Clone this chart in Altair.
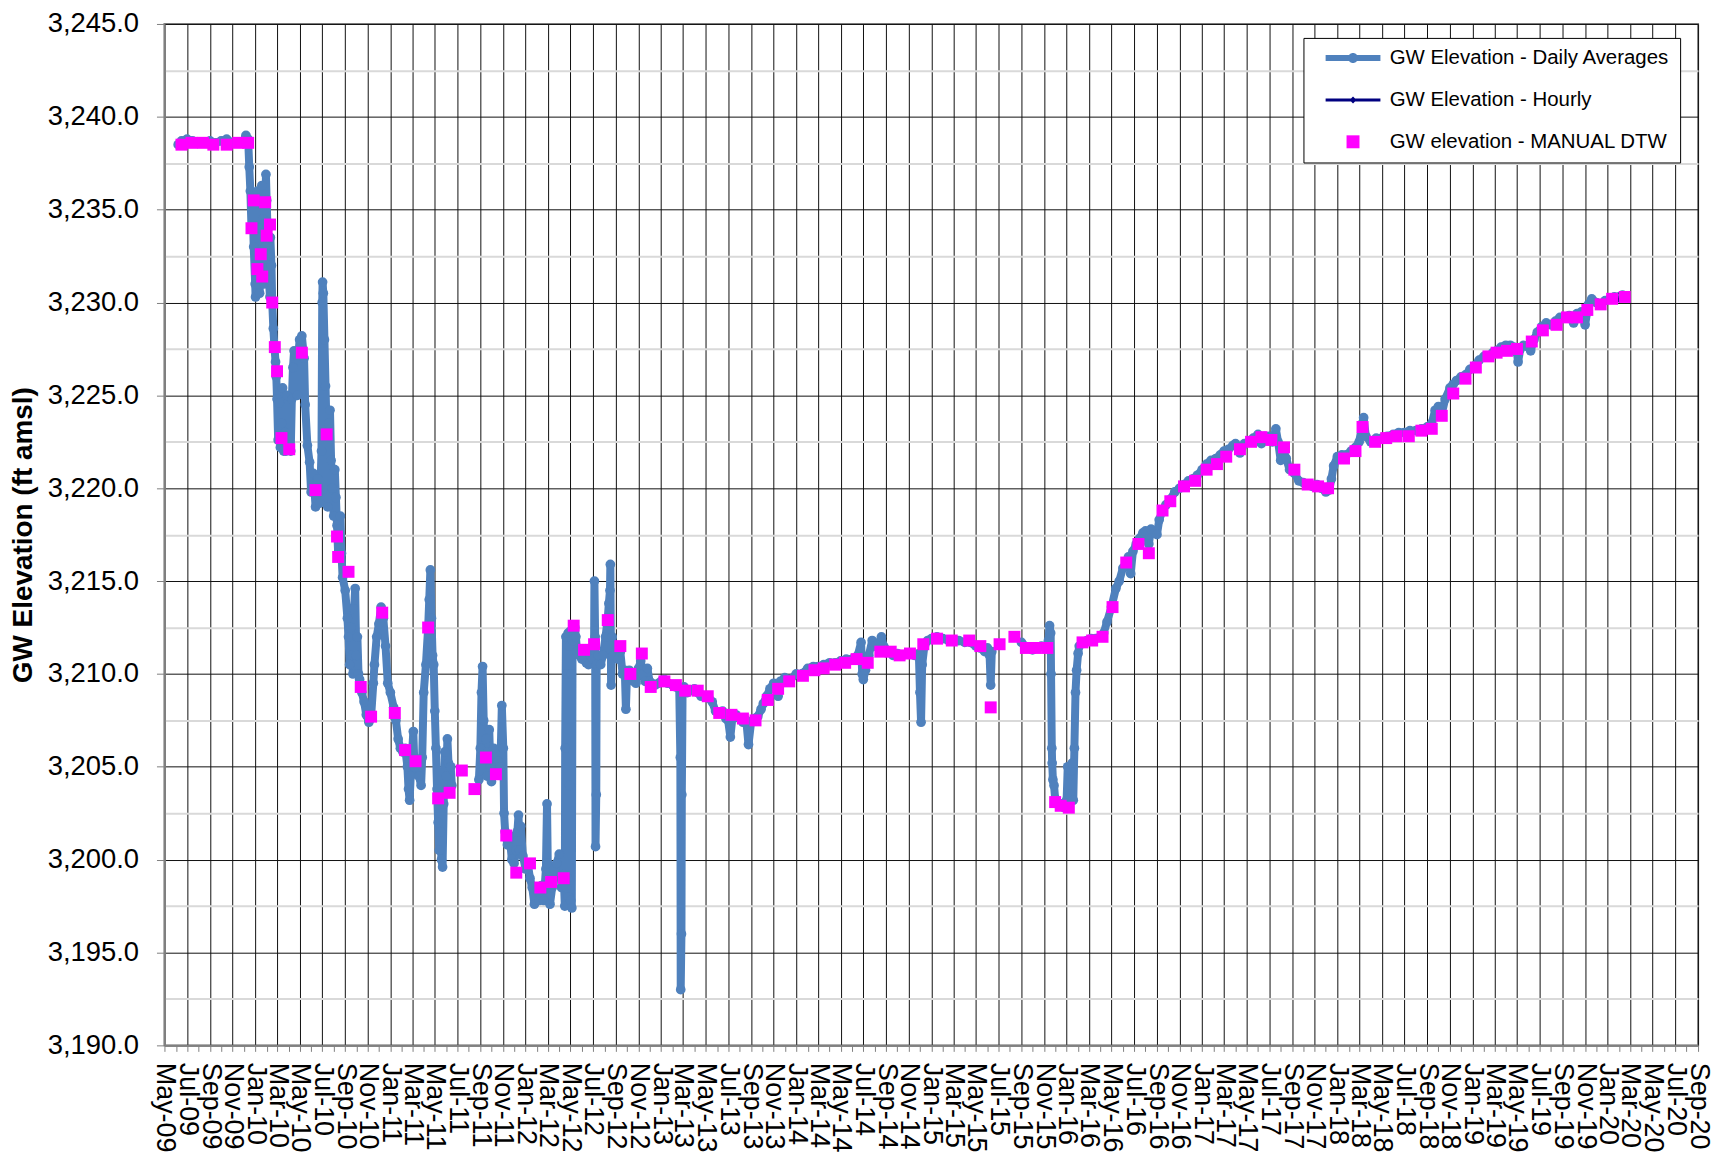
import altair as alt
import pandas as pd

BLUE = "#4F81BD"
NAVY = "#000080"
MAGENTA = "#FF00FF"

SERIES = ["GW Elevation - Daily Averages", "GW Elevation - Hourly", "GW elevation - MANUAL DTW"]

# Daily averages (three continuous segments, gaps between them)
DAILY_SEG1 = [
    ("2009-06-07", 3238.5), ("2009-06-16", 3238.7), ("2009-07-01", 3238.8), ("2009-07-16", 3238.7),
    ("2009-08-01", 3238.6), ("2009-08-16", 3238.6), ("2009-09-01", 3238.7), ("2009-09-16", 3238.6),
    ("2009-10-01", 3238.7), ("2009-10-16", 3238.8), ("2009-11-01", 3238.6), ("2009-11-16", 3238.6),
    ("2009-12-01", 3238.7), ("2009-12-07", 3239.0), ("2009-12-13", 3238.8), ("2009-12-16", 3237.3),
    ("2009-12-19", 3236.0), ("2009-12-22", 3234.0), ("2009-12-25", 3235.5), ("2009-12-28", 3233.0),
    ("2010-01-01", 3231.0), ("2010-01-02", 3230.3), ("2010-01-04", 3232.5), ("2010-01-07", 3236.0),
    ("2010-01-10", 3234.0), ("2010-01-11", 3231.0), ("2010-01-13", 3230.5), ("2010-01-16", 3232.5),
    ("2010-01-19", 3236.3), ("2010-01-22", 3234.5), ("2010-01-25", 3231.0), ("2010-01-28", 3233.0),
    ("2010-01-30", 3236.9), ("2010-02-01", 3235.5), ("2010-02-04", 3233.5), ("2010-02-07", 3231.2),
    ("2010-02-10", 3230.3), ("2010-02-11", 3233.5), ("2010-02-14", 3232.0), ("2010-02-16", 3230.0),
    ("2010-02-19", 3228.6), ("2010-02-22", 3227.6), ("2010-02-25", 3226.8), ("2010-02-27", 3226.0),
    ("2010-03-01", 3224.8), ("2010-03-04", 3222.6), ("2010-03-07", 3224.6), ("2010-03-10", 3222.2),
    ("2010-03-13", 3223.5), ("2010-03-16", 3225.4), ("2010-03-19", 3222.0), ("2010-03-22", 3223.0),
    ("2010-03-25", 3222.0), ("2010-03-28", 3225.0), ("2010-04-01", 3222.3), ("2010-04-07", 3222.0),
    ("2010-04-10", 3224.8), ("2010-04-13", 3226.5), ("2010-04-16", 3227.4), ("2010-04-22", 3227.2),
    ("2010-04-25", 3225.0), ("2010-04-28", 3227.3), ("2010-05-01", 3228.0), ("2010-05-07", 3228.2),
    ("2010-05-13", 3227.0), ("2010-05-16", 3224.5), ("2010-05-22", 3222.3), ("2010-05-28", 3221.4),
    ("2010-06-01", 3219.8), ("2010-06-07", 3220.8), ("2010-06-13", 3219.0), ("2010-06-19", 3220.5),
    ("2010-06-25", 3219.2), ("2010-06-29", 3222.0), ("2010-07-01", 3230.0), ("2010-07-02", 3231.1),
    ("2010-07-04", 3230.5), ("2010-07-07", 3228.0), ("2010-07-10", 3225.5), ("2010-07-13", 3222.9),
    ("2010-07-16", 3219.0), ("2010-07-19", 3223.5), ("2010-07-22", 3224.2), ("2010-07-25", 3221.5),
    ("2010-07-28", 3220.0), ("2010-08-01", 3218.5), ("2010-08-04", 3221.0), ("2010-08-07", 3219.5),
    ("2010-08-10", 3218.0), ("2010-08-13", 3216.5), ("2010-08-16", 3217.8), ("2010-08-19", 3218.5),
    ("2010-08-22", 3216.5), ("2010-08-25", 3215.2), ("2010-09-01", 3214.5), ("2010-09-07", 3213.0),
    ("2010-09-10", 3212.0), ("2010-09-13", 3210.5), ("2010-09-16", 3212.5), ("2010-09-19", 3211.0),
    ("2010-09-22", 3210.0), ("2010-09-25", 3213.5), ("2010-09-28", 3214.6), ("2010-10-01", 3211.0),
    ("2010-10-04", 3212.0), ("2010-10-07", 3210.0), ("2010-10-10", 3209.7), ("2010-10-16", 3209.0),
    ("2010-10-22", 3208.5), ("2010-10-28", 3207.8), ("2010-11-04", 3207.4), ("2010-11-10", 3207.7),
    ("2010-11-16", 3209.5), ("2010-11-19", 3210.5), ("2010-11-25", 3212.0), ("2010-12-01", 3212.7),
    ("2010-12-07", 3213.6), ("2010-12-13", 3213.0), ("2010-12-19", 3211.5), ("2010-12-25", 3209.5),
    ("2011-01-01", 3209.0), ("2011-01-10", 3208.2), ("2011-01-16", 3207.5), ("2011-01-22", 3206.5),
    ("2011-01-28", 3206.0), ("2011-02-04", 3205.8), ("2011-02-10", 3206.0), ("2011-02-16", 3205.0),
    ("2011-02-19", 3203.8), ("2011-02-22", 3203.2), ("2011-02-25", 3204.5), ("2011-03-04", 3206.9),
    ("2011-03-07", 3205.0), ("2011-03-13", 3205.3), ("2011-03-19", 3204.5), ("2011-03-25", 3204.0),
    ("2011-03-28", 3205.5), ("2011-04-01", 3209.0), ("2011-04-07", 3210.5), ("2011-04-13", 3212.5),
    ("2011-04-16", 3214.0), ("2011-04-19", 3215.6), ("2011-04-22", 3213.0), ("2011-04-25", 3211.0),
    ("2011-04-28", 3210.5), ("2011-05-01", 3208.0), ("2011-05-04", 3206.0), ("2011-05-07", 3203.8),
    ("2011-05-10", 3202.0), ("2011-05-13", 3200.5), ("2011-05-16", 3201.5), ("2011-05-19", 3200.0),
    ("2011-05-22", 3199.6), ("2011-05-25", 3203.0), ("2011-05-28", 3205.8), ("2011-06-01", 3204.5),
    ("2011-06-04", 3206.5), ("2011-06-07", 3205.2), ("2011-06-10", 3203.6), ("2011-06-13", 3205.0),
    ("2011-06-16", 3204.0),
]

DAILY_SEG2 = [
    ("2011-08-28", 3204.3), ("2011-09-01", 3206.0), ("2011-09-04", 3209.0), ("2011-09-07", 3210.4),
    ("2011-09-10", 3207.5), ("2011-09-13", 3205.5), ("2011-09-16", 3206.5), ("2011-09-19", 3204.5),
    ("2011-09-22", 3205.8), ("2011-09-25", 3207.0), ("2011-09-28", 3205.0), ("2011-10-01", 3204.2),
    ("2011-10-07", 3206.0), ("2011-10-13", 3204.6), ("2011-10-19", 3205.3), ("2011-10-25", 3205.0),
    ("2011-10-29", 3208.3), ("2011-11-02", 3206.0), ("2011-11-04", 3202.5), ("2011-11-07", 3201.5),
    ("2011-11-13", 3200.8), ("2011-11-19", 3201.3), ("2011-11-25", 3200.0), ("2011-12-01", 3199.8),
    ("2011-12-07", 3200.5), ("2011-12-10", 3201.5), ("2011-12-13", 3202.4), ("2011-12-16", 3200.5),
    ("2011-12-19", 3201.8), ("2011-12-25", 3200.2), ("2012-01-01", 3199.5), ("2012-01-07", 3199.8),
    ("2012-01-13", 3199.0), ("2012-01-19", 3198.5), ("2012-01-25", 3197.6), ("2012-02-01", 3198.3),
    ("2012-02-07", 3197.8), ("2012-02-13", 3198.6), ("2012-02-19", 3197.8), ("2012-02-25", 3199.5),
    ("2012-02-28", 3203.0), ("2012-03-01", 3199.8), ("2012-03-07", 3197.6), ("2012-03-13", 3198.5),
    ("2012-03-19", 3199.5), ("2012-03-25", 3199.8), ("2012-04-01", 3200.3), ("2012-04-07", 3198.5),
    ("2012-04-13", 3199.2), ("2012-04-16", 3197.5), ("2012-04-17", 3206.0), ("2012-04-19", 3212.0),
    ("2012-04-20", 3198.5), ("2012-04-22", 3210.0), ("2012-04-23", 3199.0), ("2012-04-25", 3212.2),
    ("2012-04-26", 3198.0), ("2012-04-28", 3211.5), ("2012-04-29", 3204.0), ("2012-05-01", 3212.3),
    ("2012-05-02", 3197.8), ("2012-05-04", 3210.0), ("2012-05-05", 3197.4), ("2012-05-07", 3211.8),
    ("2012-05-10", 3212.6), ("2012-05-13", 3212.5), ("2012-05-16", 3212.0), ("2012-05-19", 3211.2),
    ("2012-05-25", 3211.0), ("2012-06-01", 3210.8), ("2012-06-07", 3211.3), ("2012-06-13", 3210.6),
    ("2012-06-19", 3210.5), ("2012-06-25", 3211.0), ("2012-07-01", 3210.8), ("2012-07-04", 3211.3),
    ("2012-07-05", 3215.0), ("2012-07-07", 3212.0), ("2012-07-08", 3200.7), ("2012-07-10", 3203.5),
    ("2012-07-11", 3210.5), ("2012-07-16", 3211.0), ("2012-07-22", 3210.5), ("2012-07-28", 3211.0),
    ("2012-08-04", 3212.0), ("2012-08-10", 3213.0), ("2012-08-13", 3213.8), ("2012-08-16", 3214.5),
    ("2012-08-17", 3215.9), ("2012-08-19", 3209.4), ("2012-08-22", 3212.0), ("2012-08-25", 3211.0),
    ("2012-09-01", 3211.5), ("2012-09-07", 3210.8), ("2012-09-13", 3211.2), ("2012-09-19", 3210.0),
    ("2012-09-25", 3210.2), ("2012-09-28", 3208.1), ("2012-10-01", 3210.0), ("2012-10-07", 3210.2),
    ("2012-10-13", 3209.8), ("2012-10-19", 3209.6), ("2012-10-25", 3209.5), ("2012-11-01", 3210.3),
    ("2012-11-07", 3210.7), ("2012-11-13", 3210.0), ("2012-11-19", 3209.6), ("2012-11-25", 3210.3),
    ("2012-12-01", 3209.6), ("2012-12-07", 3209.5), ("2012-12-16", 3209.4), ("2012-12-25", 3209.5),
    ("2013-01-01", 3209.6), ("2013-01-10", 3209.7), ("2013-01-19", 3209.5), ("2013-02-01", 3209.4),
    ("2013-02-10", 3209.3), ("2013-02-19", 3209.2), ("2013-02-22", 3205.5), ("2013-02-23", 3193.0),
    ("2013-02-25", 3196.0), ("2013-02-26", 3203.5), ("2013-02-28", 3209.0), ("2013-03-04", 3209.3),
    ("2013-03-13", 3209.0), ("2013-03-22", 3209.1), ("2013-04-01", 3209.2), ("2013-04-10", 3209.0),
    ("2013-04-19", 3208.8), ("2013-05-01", 3208.8), ("2013-05-10", 3208.7), ("2013-05-19", 3208.5),
    ("2013-05-28", 3208.0), ("2013-06-07", 3207.9), ("2013-06-16", 3208.0), ("2013-06-25", 3207.6),
    ("2013-07-01", 3207.5), ("2013-07-07", 3206.6), ("2013-07-13", 3207.7), ("2013-07-22", 3207.8),
    ("2013-08-01", 3207.6), ("2013-08-10", 3207.4), ("2013-08-19", 3207.5), ("2013-08-25", 3206.2),
    ("2013-09-01", 3207.4), ("2013-09-10", 3207.6), ("2013-09-19", 3207.7), ("2013-09-28", 3208.1),
    ("2013-10-04", 3208.4), ("2013-10-13", 3208.8), ("2013-10-22", 3209.2), ("2013-11-01", 3209.5),
    ("2013-11-10", 3209.4), ("2013-11-13", 3208.8), ("2013-11-19", 3209.6), ("2013-12-01", 3209.8),
    ("2013-12-16", 3209.7), ("2014-01-01", 3210.0), ("2014-01-16", 3210.0), ("2014-02-01", 3210.3),
    ("2014-02-16", 3210.4), ("2014-03-01", 3210.4), ("2014-03-16", 3210.5), ("2014-04-01", 3210.6),
    ("2014-04-16", 3210.6), ("2014-05-01", 3210.7), ("2014-05-16", 3210.8), ("2014-06-01", 3210.8),
    ("2014-06-16", 3211.0), ("2014-06-25", 3211.7), ("2014-06-28", 3210.0), ("2014-07-01", 3209.7),
    ("2014-07-07", 3210.2), ("2014-07-16", 3211.0), ("2014-07-25", 3211.8), ("2014-08-01", 3211.5),
    ("2014-08-10", 3211.6), ("2014-08-19", 3212.0), ("2014-08-25", 3211.5), ("2014-09-01", 3211.3),
    ("2014-09-10", 3211.2), ("2014-09-19", 3211.0), ("2014-10-01", 3211.1), ("2014-10-16", 3211.0),
    ("2014-11-01", 3211.1), ("2014-11-16", 3211.0), ("2014-11-28", 3211.1), ("2014-12-01", 3209.0),
    ("2014-12-04", 3207.4), ("2014-12-07", 3210.5), ("2014-12-13", 3211.5), ("2014-12-22", 3211.8),
    ("2015-01-01", 3211.9), ("2015-01-16", 3212.0), ("2015-02-01", 3211.9), ("2015-02-16", 3211.8),
    ("2015-03-01", 3211.8), ("2015-03-16", 3211.8), ("2015-04-01", 3211.7), ("2015-04-16", 3211.7),
    ("2015-05-01", 3211.5), ("2015-05-13", 3211.4), ("2015-05-25", 3211.2), ("2015-06-01", 3211.4),
    ("2015-06-07", 3211.0), ("2015-06-10", 3209.4), ("2015-06-13", 3211.2),
]

DAILY_SEG3 = [
    ("2015-09-01", 3211.7), ("2015-09-10", 3211.5), ("2015-09-19", 3211.4), ("2015-10-01", 3211.3),
    ("2015-10-13", 3211.4), ("2015-10-25", 3211.5), ("2015-11-07", 3211.5), ("2015-11-13", 3211.8),
    ("2015-11-16", 3212.6), ("2015-11-19", 3212.2), ("2015-11-20", 3210.0), ("2015-11-22", 3206.0),
    ("2015-11-23", 3205.2), ("2015-11-25", 3204.3), ("2015-11-28", 3204.0), ("2015-12-01", 3203.3),
    ("2015-12-07", 3203.0), ("2015-12-13", 3202.9), ("2015-12-19", 3203.0), ("2015-12-25", 3202.8),
    ("2016-01-01", 3203.2), ("2016-01-04", 3205.0), ("2016-01-07", 3204.5), ("2016-01-10", 3203.5),
    ("2016-01-13", 3204.8), ("2016-01-16", 3205.2), ("2016-01-19", 3203.2), ("2016-01-22", 3206.0),
    ("2016-01-25", 3209.0), ("2016-01-28", 3210.2), ("2016-02-01", 3211.1), ("2016-02-04", 3211.5),
    ("2016-02-13", 3211.7), ("2016-02-25", 3211.8), ("2016-03-07", 3211.9), ("2016-03-19", 3211.9),
    ("2016-04-01", 3212.0), ("2016-04-10", 3212.2), ("2016-04-19", 3212.8), ("2016-05-01", 3213.6),
    ("2016-05-13", 3214.6), ("2016-05-22", 3215.0), ("2016-06-01", 3215.7), ("2016-06-10", 3216.0),
    ("2016-06-16", 3216.3), ("2016-06-22", 3215.4), ("2016-06-28", 3216.6), ("2016-07-07", 3217.0),
    ("2016-07-16", 3217.3), ("2016-07-25", 3217.6), ("2016-08-01", 3217.7), ("2016-08-10", 3217.0),
    ("2016-08-16", 3217.8), ("2016-09-01", 3217.5), ("2016-09-07", 3218.3), ("2016-09-16", 3218.8),
    ("2016-09-25", 3219.1), ("2016-10-07", 3219.4), ("2016-10-19", 3219.8), ("2016-11-01", 3220.0),
    ("2016-11-13", 3220.2), ("2016-11-25", 3220.4), ("2016-12-07", 3220.5), ("2016-12-19", 3220.7),
    ("2017-01-01", 3221.0), ("2017-01-13", 3221.3), ("2017-01-25", 3221.5), ("2017-02-07", 3221.6),
    ("2017-02-19", 3221.8), ("2017-03-01", 3222.0), ("2017-03-13", 3222.1), ("2017-03-25", 3222.3),
    ("2017-04-01", 3222.4), ("2017-04-13", 3221.9), ("2017-04-25", 3222.4), ("2017-05-07", 3222.5),
    ("2017-05-19", 3222.7), ("2017-06-01", 3222.9), ("2017-06-10", 3222.4), ("2017-06-19", 3222.8),
    ("2017-07-01", 3222.8), ("2017-07-10", 3222.5), ("2017-07-19", 3223.2), ("2017-07-25", 3222.5),
    ("2017-08-01", 3221.5), ("2017-08-07", 3222.2), ("2017-08-16", 3221.6), ("2017-08-25", 3221.0),
    ("2017-09-07", 3220.8), ("2017-09-19", 3220.4), ("2017-10-01", 3220.3), ("2017-10-13", 3220.2),
    ("2017-10-25", 3220.1), ("2017-11-07", 3220.2), ("2017-11-19", 3220.0), ("2017-12-01", 3219.8),
    ("2017-12-10", 3219.9), ("2017-12-16", 3220.5), ("2017-12-22", 3221.2), ("2018-01-01", 3221.7),
    ("2018-01-13", 3221.8), ("2018-01-25", 3221.8), ("2018-02-07", 3222.0), ("2018-02-19", 3222.2),
    ("2018-03-01", 3222.5), ("2018-03-10", 3223.5), ("2018-03-13", 3223.8), ("2018-03-19", 3222.8),
    ("2018-04-01", 3222.5), ("2018-04-16", 3222.7), ("2018-05-01", 3222.7), ("2018-05-16", 3222.8),
    ("2018-06-01", 3222.9), ("2018-06-16", 3223.0), ("2018-07-01", 3223.0), ("2018-07-16", 3223.1),
    ("2018-08-01", 3223.1), ("2018-08-16", 3223.2), ("2018-09-01", 3223.3), ("2018-09-13", 3223.5),
    ("2018-09-22", 3224.2), ("2018-10-01", 3224.4), ("2018-10-10", 3224.0), ("2018-10-19", 3224.8),
    ("2018-11-01", 3225.4), ("2018-11-10", 3225.6), ("2018-11-19", 3225.8), ("2018-12-01", 3226.0),
    ("2018-12-13", 3226.1), ("2018-12-25", 3226.4), ("2019-01-07", 3226.6), ("2019-01-19", 3226.9),
    ("2019-02-01", 3227.1), ("2019-02-13", 3227.1), ("2019-02-25", 3227.3), ("2019-03-07", 3227.4),
    ("2019-03-19", 3227.6), ("2019-04-01", 3227.7), ("2019-04-13", 3227.7), ("2019-04-22", 3227.6),
    ("2019-05-01", 3227.3), ("2019-05-04", 3226.8), ("2019-05-10", 3227.5), ("2019-05-19", 3227.7),
    ("2019-06-01", 3227.6), ("2019-06-07", 3227.4), ("2019-06-16", 3228.0), ("2019-06-25", 3228.4),
    ("2019-07-07", 3228.7), ("2019-07-19", 3228.9), ("2019-08-01", 3228.8), ("2019-08-13", 3229.0),
    ("2019-08-25", 3229.2), ("2019-09-07", 3229.2), ("2019-09-19", 3229.3), ("2019-10-01", 3228.9),
    ("2019-10-10", 3229.4), ("2019-10-22", 3229.5), ("2019-11-01", 3228.8), ("2019-11-10", 3229.9),
    ("2019-11-19", 3230.2), ("2019-12-01", 3230.0), ("2019-12-13", 3229.9), ("2019-12-25", 3230.1),
    ("2020-01-07", 3230.2), ("2020-01-19", 3230.3), ("2020-02-01", 3230.3), ("2020-02-10", 3230.4),
]

HOURLY = [
    ("2020-01-16", 3230.2), ("2020-01-25", 3230.3), ("2020-02-01", 3230.1),
    ("2020-02-04", 3230.5), ("2020-02-07", 3230.3), ("2020-02-13", 3230.4),
]

MANUAL = [
    ("2009-06-16", 3238.5), ("2009-07-13", 3238.6), ("2009-08-13", 3238.6), ("2009-09-10", 3238.5),
    ("2009-10-16", 3238.5), ("2009-11-16", 3238.6), ("2009-12-13", 3238.6), ("2009-12-22", 3234.0),
    ("2009-12-28", 3235.5), ("2010-01-07", 3231.8), ("2010-01-16", 3232.6), ("2010-01-20", 3231.4),
    ("2010-01-28", 3235.4), ("2010-02-01", 3233.6), ("2010-02-10", 3234.2), ("2010-02-16", 3230.0),
    ("2010-02-23", 3227.6), ("2010-03-01", 3226.3), ("2010-03-13", 3222.7), ("2010-04-03", 3222.1),
    ("2010-05-07", 3227.3), ("2010-06-13", 3219.9), ("2010-07-13", 3222.9), ("2010-08-10", 3217.4),
    ("2010-08-13", 3216.3), ("2010-09-10", 3215.5), ("2010-10-13", 3209.3), ("2010-11-10", 3207.7),
    ("2010-12-10", 3213.3), ("2011-01-13", 3207.9), ("2011-02-10", 3205.9), ("2011-03-10", 3205.3),
    ("2011-04-13", 3212.5), ("2011-05-10", 3203.3), ("2011-06-10", 3203.6), ("2011-07-13", 3204.8),
    ("2011-08-16", 3203.8), ("2011-09-16", 3205.5), ("2011-10-13", 3204.6), ("2011-11-10", 3201.3),
    ("2011-12-07", 3199.3), ("2012-01-13", 3199.8), ("2012-02-10", 3198.5), ("2012-03-10", 3198.8),
    ("2012-04-13", 3199.0), ("2012-05-10", 3212.6), ("2012-06-07", 3211.3), ("2012-07-04", 3211.6),
    ("2012-08-10", 3212.9), ("2012-09-13", 3211.5), ("2012-10-10", 3210.0), ("2012-11-10", 3211.1),
    ("2012-12-04", 3209.3), ("2013-01-10", 3209.6), ("2013-02-10", 3209.4), ("2013-03-07", 3209.1),
    ("2013-04-10", 3209.1), ("2013-05-07", 3208.8), ("2013-06-07", 3207.9), ("2013-07-10", 3207.8),
    ("2013-08-10", 3207.6), ("2013-09-13", 3207.5), ("2013-10-16", 3208.6), ("2013-11-13", 3209.2),
    ("2013-12-13", 3209.6), ("2014-01-19", 3209.9), ("2014-02-19", 3210.2), ("2014-03-16", 3210.3),
    ("2014-04-16", 3210.5), ("2014-05-13", 3210.6), ("2014-06-13", 3210.8), ("2014-07-13", 3210.6),
    ("2014-08-16", 3211.2), ("2014-09-13", 3211.2), ("2014-10-07", 3211.0), ("2014-11-04", 3211.1),
    ("2014-12-10", 3211.6), ("2015-01-16", 3211.9), ("2015-02-25", 3211.8), ("2015-04-13", 3211.8),
    ("2015-05-13", 3211.5), ("2015-06-10", 3208.2), ("2015-07-04", 3211.6), ("2015-08-13", 3212.0),
    ("2015-09-13", 3211.4), ("2015-10-10", 3211.4), ("2015-11-10", 3211.4), ("2015-12-01", 3203.1),
    ("2015-12-16", 3202.9), ("2016-01-07", 3202.8), ("2016-02-13", 3211.7), ("2016-03-10", 3211.8),
    ("2016-04-07", 3212.0), ("2016-05-04", 3213.6), ("2016-06-10", 3216.0), ("2016-07-13", 3217.0),
    ("2016-08-10", 3216.5), ("2016-09-16", 3218.8), ("2016-10-07", 3219.3), ("2016-11-13", 3220.1),
    ("2016-12-13", 3220.4), ("2017-01-13", 3221.0), ("2017-02-10", 3221.3), ("2017-03-07", 3221.7),
    ("2017-04-13", 3222.1), ("2017-05-13", 3222.5), ("2017-06-10", 3222.75), ("2017-07-07", 3222.6),
    ("2017-08-10", 3222.2), ("2017-09-07", 3221.0), ("2017-10-13", 3220.2), ("2017-11-10", 3220.1),
    ("2017-12-07", 3220.0), ("2018-01-19", 3221.6), ("2018-02-19", 3222.0), ("2018-03-10", 3223.3),
    ("2018-04-13", 3222.5), ("2018-05-13", 3222.7), ("2018-06-10", 3222.8), ("2018-07-13", 3222.8),
    ("2018-08-16", 3223.1), ("2018-09-13", 3223.2), ("2018-10-10", 3223.9), ("2018-11-10", 3225.1),
    ("2018-12-13", 3225.9), ("2019-01-10", 3226.5), ("2019-02-13", 3227.1), ("2019-03-07", 3227.3),
    ("2019-04-04", 3227.4), ("2019-05-01", 3227.5), ("2019-06-10", 3227.9), ("2019-07-10", 3228.5),
    ("2019-08-16", 3228.8), ("2019-09-13", 3229.2), ("2019-10-10", 3229.2), ("2019-11-07", 3229.6),
    ("2019-12-13", 3229.9), ("2020-01-13", 3230.2), ("2020-02-16", 3230.3),
]

Y_TICKS = [3190.0, 3192.5, 3195.0, 3197.5, 3200.0, 3202.5, 3205.0, 3207.5, 3210.0, 3212.5,
           3215.0, 3217.5, 3220.0, 3222.5, 3225.0, 3227.5, 3230.0, 3232.5, 3235.0, 3237.5,
           3240.0, 3242.5, 3245.0]
X_START = (2009, 5)
X_END = (2020, 9)

FONT = "Liberation Sans"

# ---- data frames ----
rows = []
for seg_id, seg in enumerate([DAILY_SEG1, DAILY_SEG2, DAILY_SEG3]):
    for d, v in seg:
        rows.append({"date": d, "value": v, "seg": seg_id})
df_daily = pd.DataFrame(rows)
df_hourly = pd.DataFrame(HOURLY, columns=["date", "value"])
df_manual = pd.DataFrame(MANUAL, columns=["date", "value"])
df_legend = pd.DataFrame({"series": SERIES,
                          "date": [DAILY_SEG1[0][0]] * 3,
                          "value": [DAILY_SEG1[0][1]] * 3})

# monthly tick positions
month_ticks = []
y, m = X_START
while (y, m) <= X_END:
    month_ticks.append(alt.DateTime(year=y, month=m, date=1, utc=True))
    m += 1
    if m > 12:
        m = 1
        y += 1

major_test = "utcmonth(datum.value) % 2 == 0"

x_axis = alt.Axis(
    values=month_ticks,
    labelExpr=f"{major_test} ? utcFormat(datum.value, '%b-%y') : ''",
    labelAngle=90, labelAlign="left", labelBaseline="middle",
    labelFontSize=27, labelFont=FONT, labelColor="black",
    labelPadding=11, labelOverlap=False, labelFlush=False,
    tickSize=6, tickColor="#808080", tickWidth=1,
    grid=True, gridColor="#111111", gridWidth=1,
    gridOpacity={"condition": {"test": major_test, "value": 1}, "value": 0},
    domainColor="#808080", domainWidth=2, title=None,
)

y_axis = alt.Axis(
    values=Y_TICKS,
    labelExpr="datum.value % 5 == 0 ? format(datum.value, ',.1f') : ''",
    labelFontSize=27.5, labelFont=FONT, labelColor="black", labelPadding=18,
    labelOverlap=False,
    tickSize=8, tickColor="#808080",
    tickOpacity={"condition": {"test": "datum.value % 5 == 0", "value": 1}, "value": 0},
    grid=True,
    gridColor={"condition": {"test": "datum.value % 5 == 0", "value": "#111111"}, "value": "#d9d9d9"},
    gridWidth={"condition": {"test": "datum.value % 5 == 0", "value": 1}, "value": 2},
    domainColor="#808080", domainWidth=2,
    title="GW Elevation (ft amsl)", titleFontSize=28, titleFontWeight="bold",
    titleFont=FONT, titleColor="black", titlePadding=10,
)

x_enc = alt.X("date:T",
              scale=alt.Scale(type="utc",
                              domain=[alt.DateTime(year=X_START[0], month=X_START[1], date=1, utc=True),
                                      alt.DateTime(year=X_END[0], month=X_END[1], date=1, utc=True)]),
              axis=x_axis)
y_enc = alt.Y("value:Q", scale=alt.Scale(domain=[Y_TICKS[0], Y_TICKS[-1]], nice=False, zero=False),
              axis=y_axis)

daily = alt.Chart(df_daily).mark_line(
    color=BLUE, strokeWidth=8, strokeJoin="round", strokeCap="round",
    point=alt.OverlayMarkDef(filled=True, color=BLUE, size=95, opacity=1),
).encode(x=x_enc, y=y_enc, detail="seg:N")

hourly = alt.Chart(df_hourly).mark_line(
    color=NAVY, strokeWidth=2,
    point=alt.OverlayMarkDef(shape="diamond", filled=True, color=NAVY, size=20, opacity=1),
).encode(x=x_enc, y=y_enc)

manual = alt.Chart(df_manual).mark_square(color=MAGENTA, size=144, opacity=1).encode(x=x_enc, y=y_enc)

# legend symbols (custom paths): thick line + circle, thin line + diamond, square
P_DAILY = "M0.4,-0.6 L11.4,-0.6 L11.4,0.6 L0.4,0.6 Z M4.9,0 A1,1 0 1,1 6.9,0 A1,1 0 1,1 4.9,0 Z"
P_HOURLY = "M0.4,-0.3 L11.4,-0.3 L11.4,0.3 L0.4,0.3 Z M5.9,-0.7 L6.6,0 L5.9,0.7 L5.2,0 Z"
P_MANUAL = "M4.6,-1.3 L7.2,-1.3 L7.2,1.3 L4.6,1.3 Z"

leg = alt.Legend(
    title=None, orient="none", legendX=1143, legendY=14, direction="vertical",
    fillColor="white", strokeColor="black", padding=10, cornerRadius=0,
    labelFont=FONT, labelFontSize=20.5, labelColor="black", labelLimit=500,
    symbolSize=100, symbolStrokeWidth=0, symbolOpacity=1, labelOffset=56, rowPadding=21,
)

legend_layer = alt.Chart(df_legend).transform_filter("false").mark_point(filled=True, opacity=1).encode(
    x=x_enc, y=y_enc,
    color=alt.Color("series:N", scale=alt.Scale(domain=SERIES, range=[BLUE, NAVY, MAGENTA]), legend=leg),
    shape=alt.Shape("series:N", scale=alt.Scale(domain=SERIES, range=[P_DAILY, P_HOURLY, P_MANUAL]), legend=leg),
)

chart = alt.layer(daily, hourly, manual, legend_layer).properties(
    width=1539, height=1025,
    autosize=alt.AutoSizeParams(type="none"),
    padding={"left": 157, "top": 14, "right": 16, "bottom": 110},
    background="white",
).configure(font=FONT).configure_view(stroke="#808080", strokeWidth=2).configure_legend(strokeWidth=1)

chart.save("out.html", embed_options={"renderer": "svg", "actions": False})
